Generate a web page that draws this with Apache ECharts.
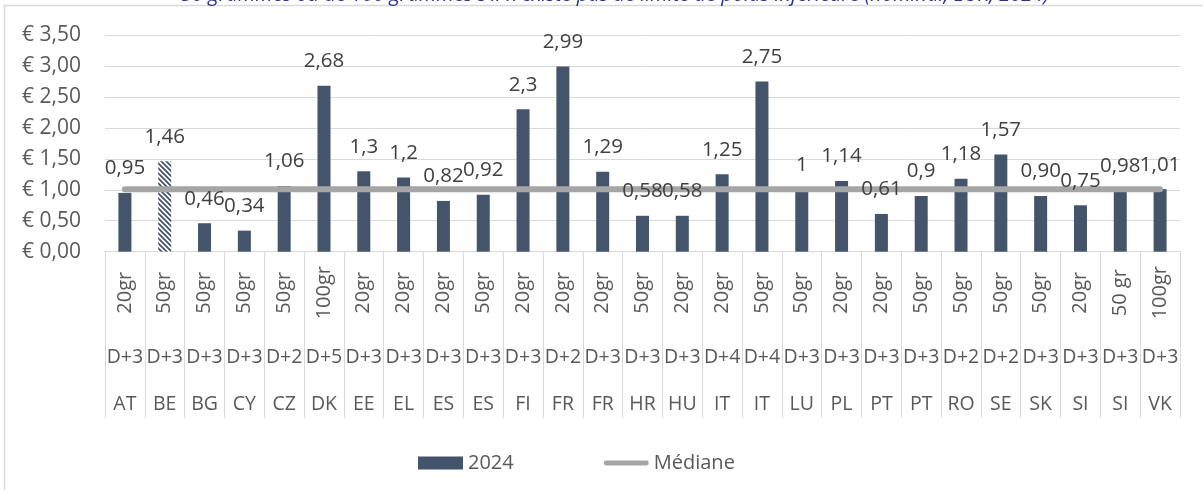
<!DOCTYPE html>
<html>
<head>
<meta charset="utf-8">
<script src="https://cdn.jsdelivr.net/npm/echarts@6/dist/echarts.min.js"></script>
<style>
html,body{margin:0;padding:0;background:#fff;}
#chart{width:1203px;height:490px;}
</style>
</head>
<body>
<div id="chart"></div>
<script>
const countries = ['AT','BE','BG','CY','CZ','DK','EE','EL','ES','ES','FI','FR','FR','HR','HU','IT','IT','LU','PL','PT','PT','RO','SE','SK','SI','SI','VK'];
const weights = ['20gr','50gr','50gr','50gr','50gr','100gr','20gr','20gr','20gr','50gr','20gr','20gr','20gr','50gr','20gr','20gr','50gr','50gr','20gr','20gr','50gr','50gr','50gr','50gr','20gr','50 gr','100gr'];
const delays = ['D+3','D+3','D+3','D+3','D+2','D+5','D+3','D+3','D+3','D+3','D+3','D+2','D+3','D+3','D+3','D+4','D+4','D+3','D+3','D+3','D+3','D+2','D+2','D+3','D+3','D+3','D+3'];
const values2024 = [0.95,1.46,0.46,0.34,1.06,2.68,1.3,1.2,0.82,0.92,2.3,2.99,1.29,0.58,0.58,1.25,2.75,1,1.14,0.61,0.9,1.18,1.57,0.90,0.75,0.98,1.01];
const valueLabels = ['0,95','1,46','0,46','0,34','1,06','2,68','1,3','1,2','0,82','0,92','2,3','2,99','1,29','0,58','0,58','1,25','2,75','1','1,14','0,61','0,9','1,18','1,57','0,90','0,75','0,98','1,01'];
const median = [1.01,1.01,1.01,1.01,1.01,1.01,1.01,1.01,1.01,1.01,1.01,1.01,1.01,1.01,1.01,1.01,1.01,1.01,1.01,1.01,1.01,1.01,1.01,1.01,1.01,1.01,1.01];
const hatchedIndex = 1;
const titleText = "50 grammes ou de 100 grammes s'il n'existe pas de limite de poids inférieure (nominal, EUR, 2024)";

const FONT = "'Open Sans', sans-serif";
const BAR = '#44546a';

function hatch() {
  const s = 5;
  const c = document.createElement('canvas');
  c.width = s; c.height = s;
  const g = c.getContext('2d');
  g.fillStyle = '#ffffff'; g.fillRect(0, 0, s, s);
  g.strokeStyle = BAR; g.lineWidth = 1.8;
  g.beginPath();
  for (const k of [-s, 0, s]) { g.moveTo(k - 1, -1); g.lineTo(k + s + 1, s + 1); }
  g.stroke();
  return c;
}
const pattern = { image: hatch(), repeat: 'repeat' };

const barData = values2024.map((v, i) => i === hatchedIndex ? { value: v, itemStyle: { color: pattern } } : v);

const chart = echarts.init(document.getElementById('chart'), null, { renderer: 'canvas' });
const axisText = { color: '#595959', fontFamily: FONT };
const lineIcon = 'path://M0,0L0,0M47,13L47,13M2.5,4H44.5A2.5,2.5 0 0 1 44.5,9H2.5A2.5,2.5 0 0 1 2.5,4Z';

chart.setOption({
  animation: false,
  textStyle: { fontFamily: FONT },
  graphic: [
    { type: 'rect', shape: { x: 4.5, y: 5.5, width: 1300, height: 600 }, style: { fill: 'none', stroke: '#d9d9d9', lineWidth: 1.5 }, silent: true, z: -1 },
    { type: 'text', x: 615, y: 5, style: { text: titleText, fill: '#2E3192', font: "italic 20px 'Open Sans', sans-serif", textAlign: 'center', textVerticalAlign: 'bottom' }, silent: true }
  ],
  grid: { left: 105, right: 23, top: 35, bottom: 238.3 },
  legend: {
    left: 413, top: 448, itemWidth: 45, itemHeight: 13, itemGap: 90,
    textStyle: { color: '#595959', fontSize: 20, fontFamily: FONT },
    data: [
      { name: '2024', icon: 'rect' },
      { name: 'Médiane', icon: lineIcon, itemWidth: 47 }
    ]
  },
  xAxis: [
    {
      type: 'category', data: weights, position: 'bottom',
      axisLine: { show: true, lineStyle: { color: '#d9d9d9', width: 1 } },
      axisTick: { show: true, length: 166, lineStyle: { color: '#d9d9d9' } },
      axisLabel: Object.assign({ interval: 0, rotate: 90, fontSize: 20, margin: 41, align: 'center', verticalAlign: 'middle' }, axisText)
    },
    {
      type: 'category', data: delays, position: 'bottom',
      axisLine: { show: false }, axisTick: { show: false },
      axisLabel: Object.assign({ interval: 0, fontSize: 19.5, margin: 106, verticalAlign: 'middle' }, axisText)
    },
    {
      type: 'category', data: countries, position: 'bottom',
      axisLine: { show: false }, axisTick: { show: false },
      axisLabel: Object.assign({ interval: 0, fontSize: 19.5, margin: 153, verticalAlign: 'middle' }, axisText)
    }
  ],
  yAxis: {
    type: 'value', min: 0, max: 3.5, interval: 0.5,
    axisLine: { show: false }, axisTick: { show: false },
    splitLine: { lineStyle: { color: '#d9d9d9', width: 1 } },
    axisLabel: Object.assign({ fontSize: 21, margin: 24, formatter: v => '€ ' + v.toFixed(2).replace('.', ',') }, axisText)
  },
  series: [
    {
      name: '2024', type: 'bar', xAxisIndex: 0, data: barData, barWidth: 13, barGap: '-100%',
      itemStyle: { color: BAR }, z: 2
    },
    {
      name: 'Médiane', type: 'line', xAxisIndex: 0, data: median, symbol: 'none',
      lineStyle: { color: '#a5a5a5', width: 6, cap: 'round' }, itemStyle: { color: '#a5a5a5' }, z: 3
    },
    {
      name: 'labels', type: 'bar', xAxisIndex: 0, data: values2024, barWidth: 13, barGap: '-100%',
      itemStyle: { color: 'rgba(0,0,0,0)' }, silent: true, z: 4,
      label: { show: true, position: 'top', distance: 14, fontSize: 20.5, color: '#404040', fontFamily: FONT,
        formatter: p => valueLabels[p.dataIndex] }
    }
  ]
});
</script>
</body>
</html>
